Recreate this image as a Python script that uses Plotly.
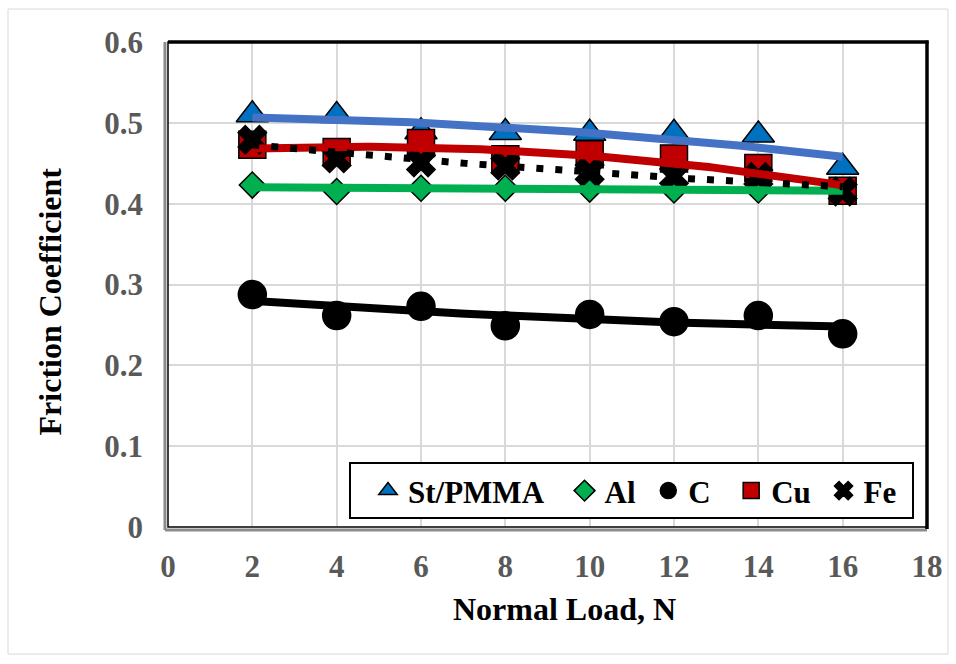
import numpy as np
import plotly.graph_objects as go

# ---- data ----
load = [2, 4, 6, 8, 10, 12, 14, 16]
st_pmma = [0.510, 0.509, 0.489, 0.488, 0.487, 0.487, 0.485, 0.445]
al = [0.423, 0.415, 0.419, 0.419, 0.418, 0.417, 0.417, 0.415]
c_vals = [0.2875, 0.2615, 0.273, 0.249, 0.263, 0.254, 0.2615, 0.239]
cu = [0.473, 0.464, 0.475, 0.455, 0.461, 0.456, 0.444, 0.416]
fe = [0.479, 0.456, 0.451, 0.447, 0.439, 0.434, 0.433, 0.415]

x_ticks = [0, 2, 4, 6, 8, 10, 12, 14, 16, 18]
y_ticks = [0, 0.1, 0.2, 0.3, 0.4, 0.5, 0.6]
y_tick_text = ["0", "0.1", "0.2", "0.3", "0.4", "0.5", "0.6"]

x_title = "Normal Load, N"
y_title = "Friction Coefficient"

FONT = "Liberation Serif, Times New Roman, serif"
NB = "\u00a0"

series = [
    dict(name="St/PMMA", pad=2, y=st_pmma, symbol="triangle-up", size=28, fill="#0070C0",
         line="#4472C4", dash="solid"),
    dict(name="Al", pad=1, y=al, symbol="diamond", size=20, fill="#00B050",
         line="#00B050", dash="solid"),
    dict(name="C", pad=2, y=c_vals, symbol="circle", size=28, fill="#000000",
         line="#000000", dash="solid"),
    dict(name="Cu", pad=1, y=cu, symbol="square", size=27, fill="#C00000",
         line="#C00000", dash="solid"),
    dict(name="Fe", pad=0, y=fe, symbol="x", size=25, fill="#000000",
         line="#000000", dash="7px,12px"),
]

fig = go.Figure()

# markers
for s in series:
    fig.add_trace(go.Scatter(
        x=load, y=s["y"], mode="markers", name=s["name"] + NB * s["pad"],
        marker=dict(symbol=s["symbol"], size=s["size"], color=s["fill"],
                    line=dict(color="#000000", width=1.5)),
    ))

# polynomial (2nd order) trendlines, fitted from the data
xs = np.linspace(min(load), max(load), 120)
for s in series:
    coef = np.polyfit(load, s["y"], 2)
    fig.add_trace(go.Scatter(
        x=xs, y=np.polyval(coef, xs), mode="lines", showlegend=False,
        hoverinfo="skip",
        line=dict(color=s["line"], width=8 if s["dash"] == "solid" else 7,
                  dash=s["dash"]),
    ))

axis_common = dict(
    showgrid=True, gridcolor="#D9D9D9", gridwidth=1.5, zeroline=False,
    showline=False, ticks="",
    tickfont=dict(family=FONT, size=31, color="#595959", weight="bold"),
)

fig.update_layout(
    width=956, height=664,
    margin=dict(l=168, r=29, t=42, b=137),
    paper_bgcolor="white", plot_bgcolor="white",
    showlegend=True,
    legend=dict(
        orientation="h", x=0.2635, y=0.13, xanchor="left", yanchor="top",
        bgcolor="rgba(0,0,0,0)", borderwidth=0,
        font=dict(family=FONT, size=31, color="#000000", weight="bold"),
        itemwidth=30,
    ),
    xaxis=dict(range=[0, 18], tickvals=x_ticks, ticklabelstandoff=18, **axis_common),
    yaxis=dict(range=[0, 0.6], tickvals=y_ticks, ticktext=y_tick_text,
               ticklabelstandoff=24, **axis_common),
)

title_font = dict(family=FONT, size=32, color="#000000", weight="bold")
fig.add_annotation(text=x_title, xref="paper", yref="paper", x=0.523, y=-0.169,
                   xanchor="center", yanchor="middle", showarrow=False, font=title_font)
fig.add_annotation(text=y_title, xref="paper", yref="paper", x=-0.1555, y=0.465,
                   xanchor="center", yanchor="middle", textangle=-90,
                   showarrow=False, font=title_font)

# plot-area frame, legend box and outer chart border
shapes = [
    dict(type="rect", xref="paper", yref="paper", x0=-0.2108, x1=1.0277,
         y0=-0.262, y1=1.068, line=dict(color="#D9D9D9", width=1), layer="below"),
    dict(type="line", xref="paper", yref="paper", x0=-0.004, x1=-0.004, y0=-0.006, y1=1,
         line=dict(color="#8C8C8C", width=3)),
    dict(type="line", xref="paper", yref="paper", x0=-0.004, x1=1, y0=-0.006, y1=-0.006,
         line=dict(color="#8C8C8C", width=3)),
    dict(type="rect", xref="paper", yref="paper", x0=0, x1=1, y0=0, y1=1,
         line=dict(color="#000000", width=1.5)),
    dict(type="line", xref="paper", yref="paper", x0=0, x1=1.002, y0=1, y1=1,
         line=dict(color="#000000", width=3.5)),
    dict(type="line", xref="paper", yref="paper", x0=1, x1=1, y0=-0.004, y1=1.003,
         line=dict(color="#000000", width=3.5)),
    # legend frame
    dict(type="rect", xref="paper", yref="paper",
         x0=(350 - 168) / 759, x1=(913 - 168) / 759,
         y0=(527 - 518) / 485, y1=(527 - 463) / 485,
         fillcolor="white", line=dict(color="#000000", width=2), layer="above"),
]
fig.update_layout(shapes=shapes)

fig.write_html("out.html")
